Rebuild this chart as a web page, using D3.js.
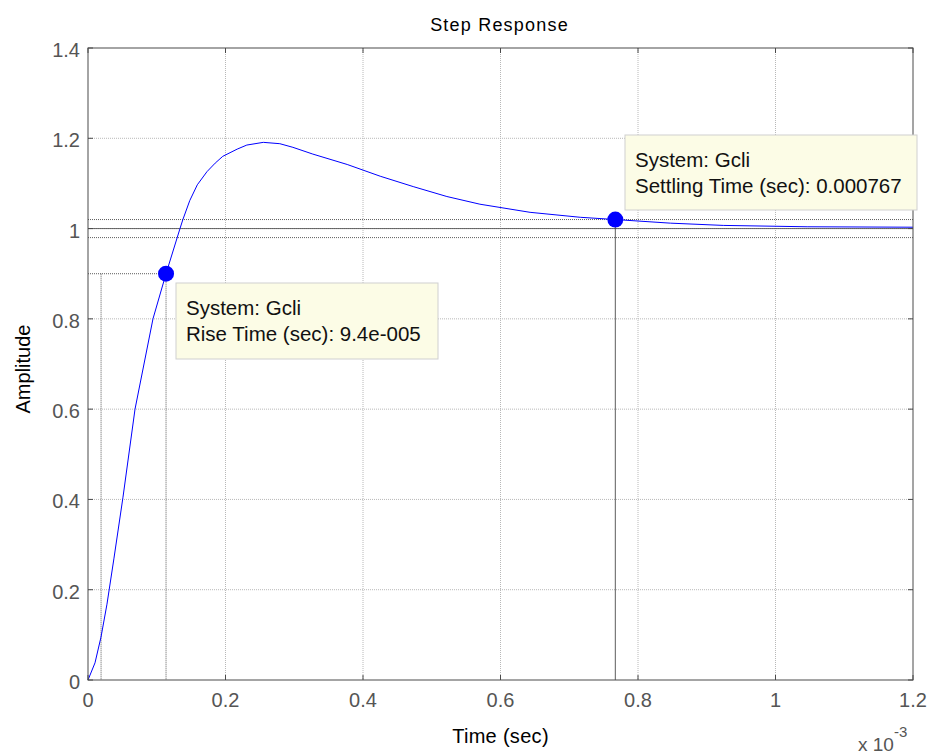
<!DOCTYPE html>
<html><head><meta charset="utf-8">
<script src="https://cdn.jsdelivr.net/npm/d3@7"></script>
<style>body{margin:0;background:#fff}svg{display:block;font-family:"Liberation Sans",Arial,sans-serif}</style>
</head><body><svg id="c" width="932" height="756"></svg>
<script>
// time in ms (x 10^-3 s), amplitude
const timeMs = [0,0.0102,0.0189,0.0276,0.0378,0.0509,0.0684,0.0945,0.1135,0.1338,0.138,0.148,0.159,0.173,0.185,0.196,0.217,0.231,0.255,0.279,0.298,0.327,0.377,0.425,0.473,0.522,0.570,0.643,0.716,0.767,0.847,0.924,1.046,1.2];
const amplitude = [0,0.038,0.095,0.168,0.27,0.405,0.60,0.80,0.9,1.0,1.02,1.062,1.097,1.126,1.145,1.160,1.176,1.185,1.191,1.188,1.180,1.165,1.142,1.116,1.093,1.071,1.054,1.036,1.025,1.02,1.012,1.007,1.004,1.003];
const xTicks = [0,0.2,0.4,0.6,0.8,1,1.2];
const yTicks = [0,0.2,0.4,0.6,0.8,1,1.2,1.4];
const riseStart = 0.019, riseEnd = 0.1135, riseLevel = 0.9;
const settleTime = 0.767, settleLevel = 1.02, settleBand = [0.98, 1.02], finalValue = 1.0;
const tips = [
  {lines:["System: Gcli","Rise Time (sec): 9.4e-005"]},
  {lines:["System: Gcli","Settling Time (sec): 0.000767"]}
];

const svg = d3.select("#c");
const L=88,R=913,T=48,B=680;
const x = d3.scaleLinear().domain([0,1.2]).range([L,R]);
const y = d3.scaleLinear().domain([0,1.4]).range([B,T]);

// grid
const g = svg.append("g");
g.selectAll(".gx").data(xTicks.slice(1,-1)).join("line")
  .attr("x1",d=>x(d)).attr("x2",d=>x(d)).attr("y1",T).attr("y2",B)
  .attr("stroke","#b8b8b8").attr("stroke-dasharray","1,1");
g.selectAll(".gy").data(yTicks.slice(1,-1)).join("line")
  .attr("y1",d=>y(d)).attr("y2",d=>y(d)).attr("x1",L).attr("x2",R)
  .attr("stroke","#b8b8b8").attr("stroke-dasharray","1,1");

// characteristic lines
const cl = svg.append("g").attr("stroke","#333").attr("stroke-width",0.8);
cl.append("line").attr("x1",L).attr("x2",R).attr("y1",y(finalValue)).attr("y2",y(finalValue)).attr("stroke","#444");
settleBand.forEach(v=>cl.append("line").attr("x1",L).attr("x2",R).attr("y1",y(v)).attr("y2",y(v)).attr("stroke-dasharray","1,1"));
cl.append("line").attr("x1",L).attr("x2",x(riseEnd)).attr("y1",y(riseLevel)).attr("y2",y(riseLevel)).attr("stroke-dasharray","1,1");
cl.append("line").attr("x1",x(riseStart)).attr("x2",x(riseStart)).attr("y1",y(riseLevel)).attr("y2",B).attr("stroke-dasharray","1,1");
cl.append("line").attr("x1",x(riseEnd)).attr("x2",x(riseEnd)).attr("y1",y(riseLevel)).attr("y2",B).attr("stroke-dasharray","1,1");
cl.append("line").attr("x1",x(settleTime)).attr("x2",x(settleTime)).attr("y1",y(settleLevel)).attr("y2",B);

// curve
const data = timeMs.map((t,i)=>[t,amplitude[i]]);
svg.append("path").datum(data)
  .attr("d",d3.line().x(d=>x(d[0])).y(d=>y(d[1])))
  .attr("fill","none").attr("stroke","#0000ff").attr("stroke-width",1);

// axes box and ticks
const ax = svg.append("g").attr("stroke","#4a4a4a").attr("fill","none");
ax.append("rect").attr("x",L).attr("y",T).attr("width",R-L).attr("height",B-T).attr("stroke-width",1);
const tl=5;
xTicks.forEach(d=>{
  ax.append("line").attr("x1",x(d)).attr("x2",x(d)).attr("y1",B).attr("y2",B-tl);
  ax.append("line").attr("x1",x(d)).attr("x2",x(d)).attr("y1",T).attr("y2",T+tl);
});
yTicks.forEach(d=>{
  ax.append("line").attr("x1",L).attr("x2",L+tl).attr("y1",y(d)).attr("y2",y(d));
  ax.append("line").attr("x1",R).attr("x2",R-tl).attr("y1",y(d)).attr("y2",y(d));
});
const fmt = d=>String(d);
svg.selectAll(".xl").data(xTicks).join("text")
  .attr("x",d=>x(d)).attr("y",B+27).attr("text-anchor","middle")
  .attr("font-size",20).attr("fill","#555").text(fmt);
svg.selectAll(".yl").data(yTicks).join("text")
  .attr("x",L-8).attr("y",d=>y(d)+9).attr("text-anchor","end")
  .attr("font-size",20).attr("fill","#555").text(fmt);

// labels
svg.append("text").attr("x",(L+R)/2-1).attr("y",31).attr("text-anchor","middle").attr("font-size",18).attr("letter-spacing",1.2).attr("fill","#000").text("Step Response");
svg.append("text").attr("x",(L+R)/2).attr("y",743).attr("text-anchor","middle").attr("font-size",20).attr("letter-spacing",0.3).attr("fill","#000").text("Time (sec)");
svg.append("text").attr("transform",`translate(30,${(T+B)/2+5}) rotate(-90)`).attr("text-anchor","middle").attr("font-size",20).attr("fill","#000").text("Amplitude");
const ex = svg.append("text").attr("x",858).attr("y",751).attr("font-size",19).attr("fill","#555");
ex.append("tspan").text("x 10");
ex.append("tspan").attr("dy",-14).attr("font-size",15).text("-3");

// markers
[[riseEnd,riseLevel],[settleTime,settleLevel]].forEach(p=>
  svg.append("circle").attr("cx",x(p[0])).attr("cy",y(p[1])).attr("r",8).attr("fill","#0000ff"));

// datatips
const boxes = [{x:176,y:283,w:262,h:76},{x:625,y:135,w:292,h:75}];
tips.forEach((tp,i)=>{
  const b=boxes[i];
  svg.append("rect").attr("x",b.x).attr("y",b.y).attr("width",b.w).attr("height",b.h)
    .attr("fill","#fcfce6").attr("stroke","#d0d0d0");
  tp.lines.forEach((s,j)=>svg.append("text").attr("x",b.x+10).attr("y",b.y+32+j*26)
    .attr("font-size",20.5).attr("fill","#111").text(s));
});
</script></body></html>
